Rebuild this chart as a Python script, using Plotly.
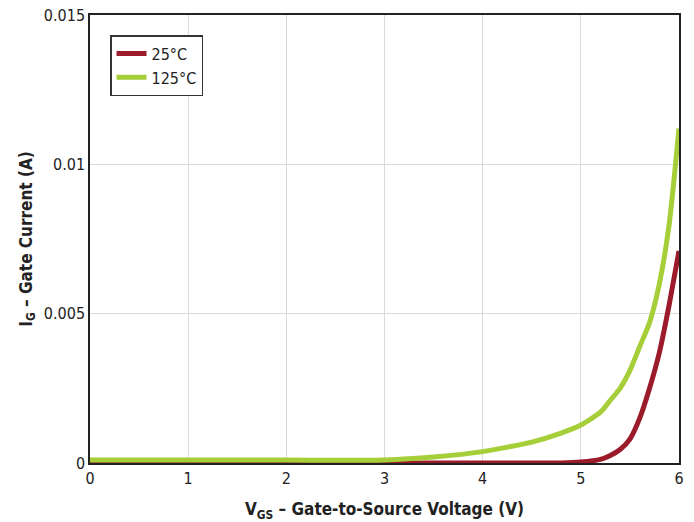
import plotly.graph_objects as go

vgs = [0, 0.5, 1, 1.5, 2, 2.5, 3, 3.5, 4, 4.5, 4.8, 5.0, 5.2, 5.3, 5.4, 5.5, 5.6, 5.7, 5.8, 5.9, 6.0]
ig_25 = [0, 0, 0, 0, 0, 0, 0, 0, 0, 0, 0, 0.00003, 0.00012, 0.00025, 0.00045, 0.0008, 0.0015, 0.0025, 0.0037, 0.0053, 0.0071]
ig_125 = [0.0001, 0.0001, 0.0001, 0.0001, 0.0001, 0.00009, 0.0001, 0.0002, 0.00038, 0.0007, 0.001, 0.00127, 0.0017, 0.0021, 0.0025, 0.0031, 0.0039, 0.0047, 0.006, 0.008, 0.0112]

series_names = ["25°C", "125°C"]
colors = ["#9b1b2a", "#a6ce39"]

font_family = "DejaVu Sans Condensed, Roboto, sans-serif"

fig = go.Figure()
for name, ys, c in zip(series_names, [ig_25, ig_125], colors):
    fig.add_trace(go.Scatter(x=vgs, y=ys, mode="lines", name=name,
                             line=dict(color=c, width=5, shape="spline", smoothing=0.6)))

axis_common = dict(showline=True, linecolor="#222", linewidth=1.5, mirror=True,
                   showgrid=True, gridcolor="#d9d9d9", gridwidth=1, automargin=False,
                   zeroline=False, ticks="", tickfont=dict(size=16, color="#222", family=font_family))

fig.update_xaxes(range=[0, 6], dtick=1, **axis_common,
                 title=dict(text="V<sub>GS</sub> – Gate-to-Source Voltage (V)",
                            font=dict(size=17, color="#222", family=font_family, weight="bold"),
                            standoff=18))
fig.update_yaxes(range=[0, 0.015], tickvals=[0, 0.005, 0.01, 0.015],
                 ticktext=["0", "0.005", "0.01", "0.015"], **axis_common,
                 title=dict(text="I<sub>G</sub> – Gate Current (A)",
                            font=dict(size=17, color="#222", family=font_family, weight="bold"),
                            standoff=7))

fig.update_layout(
    width=694, height=522,
    margin=dict(l=90, r=15, t=15, b=59),
    plot_bgcolor="white", paper_bgcolor="white",
    font=dict(family=font_family, color="#222"),
    legend=dict(x=0.034, y=0.955, xanchor="left", yanchor="top",
                bgcolor="white", bordercolor="#333", borderwidth=1.5,
                font=dict(size=16, family=font_family, color="#222")),
)

fig.write_html("out.html", config={"displayModeBar": False},
               post_script="document.body.style.margin='0';document.body.style.padding='0';")
